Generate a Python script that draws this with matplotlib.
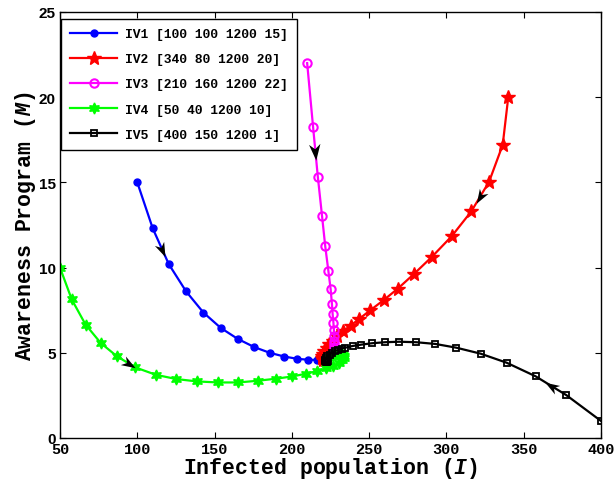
import numpy as np
import matplotlib
matplotlib.use("Agg")
import matplotlib.pyplot as plt
from matplotlib.path import Path

plt.rcParams["mathtext.fontset"] = "custom"
plt.rcParams["mathtext.it"] = "Liberation Mono:italic:bold"
plt.rcParams["mathtext.rm"] = "Liberation Mono:bold"

# Trajectories in the (I, M) plane for five initial values
iv1_I = [100, 110, 120.4, 131.6, 142.8, 154, 164.9, 175.8, 185.7, 195.1, 203.3, 210.7, 216.5, 220, 222, 223, 223.2]
iv1_M = [15.0, 12.3, 10.2, 8.6, 7.36, 6.46, 5.82, 5.33, 5.0, 4.78, 4.65, 4.59, 4.58, 4.6, 4.65, 4.7, 4.75]

iv2_I = [340, 336.4, 327.6, 316.1, 303.4, 290.7, 278.8, 268.6, 259.5, 250.8, 243.7, 238.1, 233, 229.2,
         226.5, 224.3, 222.5, 221, 220, 219.5, 219.6, 220.3, 221.2, 222]
iv2_M = [20.0, 17.2, 15.04, 13.3, 11.84, 10.64, 9.61, 8.77, 8.1, 7.5, 7.0, 6.6, 6.27, 5.98,
         5.72, 5.5, 5.3, 5.12, 4.95, 4.8, 4.68, 4.6, 4.6, 4.65]

iv3_I = [209.9, 213.7, 216.8, 219.5, 221.6, 223.6, 225.1, 225.9, 226.4, 226.9, 227.2, 227.4,
         227.5, 227.5, 227.3, 227, 226.5, 225.8, 225, 224, 223.2]
iv3_M = [22.0, 18.28, 15.33, 13.05, 11.25, 9.82, 8.73, 7.89, 7.25, 6.76, 6.31, 5.98,
         5.72, 5.5, 5.32, 5.17, 5.05, 4.95, 4.87, 4.8, 4.76]

iv4_I = [50, 57.6, 66.5, 76.4, 86.9, 98.8, 112, 125.2, 138.7, 152.2, 165.4, 177.9, 189.8, 200, 209.1,
         216.5, 222.1, 226.7, 230.2, 232.5, 233.5, 233.7, 233.2, 232.2, 231, 229.5, 228, 226.5, 225, 223.8]
iv4_M = [10.0, 8.13, 6.66, 5.57, 4.79, 4.14, 3.71, 3.46, 3.32, 3.26, 3.26, 3.36, 3.48, 3.61, 3.77,
         3.93, 4.08, 4.24, 4.39, 4.55, 4.69, 4.8, 4.88, 4.93, 4.95, 4.93, 4.9, 4.85, 4.8, 4.76]

iv5_I = [400, 377.5, 357.7, 338.9, 322.1, 306.4, 292.8, 280.5, 269.5, 260.2, 251.8, 244.9, 239.3, 234.5,
         232.3, 230, 228, 226, 224.5, 223, 222, 221.5, 221.5, 222, 223, 223.5]
iv5_M = [1.0, 2.52, 3.62, 4.42, 4.95, 5.30, 5.52, 5.62, 5.65, 5.62, 5.56, 5.48, 5.40, 5.30,
         5.25, 5.18, 5.1, 5.0, 4.9, 4.8, 4.7, 4.6, 4.5, 4.45, 4.45, 4.5]

labels = ["IV1 [100 100 1200 15]", "IV2 [340 80 1200 20]", "IV3 [210 160 1200 22]",
          "IV4 [50 40 1200 10]", "IV5 [400 150 1200 1]"]

# direction arrows: (segment index, fraction along segment)
arrow_at = [(1, 0.6), (2, 0.5), (1, 0.5), (4, 0.65), (1, 0.5)]

series = [(iv1_I, iv1_M), (iv2_I, iv2_M), (iv3_I, iv3_M), (iv4_I, iv4_M), (iv5_I, iv5_M)]
styles = [
    dict(color="#0000ff", marker="o", markersize=5, markerfacecolor="#0000ff"),
    dict(color="#ff0000", marker="*", markersize=10, markerfacecolor="#ff0000"),
    dict(color="#ff00ff", marker="o", markersize=6, markerfacecolor="none", markeredgewidth=1.5),
    dict(color="#00ff00", marker=(6, 1, 0), markersize=8, markerfacecolor="#00ff00"),
    dict(color="#000000", marker="s", markersize=4.5, markerfacecolor="none", markeredgewidth=1.3),
]

fig = plt.figure(figsize=(6.16, 4.81), dpi=100)
ax = fig.add_axes([60 / 616, 42 / 481, 541 / 616, 426 / 481])

handles = []
for (xs, ys), st, lab in zip(series, styles, labels):
    h, = ax.plot(xs, ys, linewidth=1.6, label=lab, **st)
    handles.append(h)

ax.set_xlim(50, 400)
ax.set_ylim(0, 25)
ax.set_xticks(np.arange(50, 401, 50))
ax.set_yticks(np.arange(0, 26, 5))

# arrowheads showing the direction of motion
head = Path([(1, 0), (-1, 0.7), (-0.4, 0), (-1, -0.7), (1, 0)],
            [Path.MOVETO, Path.LINETO, Path.LINETO, Path.LINETO, Path.CLOSEPOLY])
for (xs, ys), (k, f) in zip(series, arrow_at):
    x0, y0, x1, y1 = xs[k], ys[k], xs[k + 1], ys[k + 1]
    px, py = x0 + f * (x1 - x0), y0 + f * (y1 - y0)
    d0 = ax.transData.transform((x0, y0))
    d1 = ax.transData.transform((x1, y1))
    ang = np.arctan2(d1[1] - d0[1], d1[0] - d0[0])
    c, s = np.cos(ang), np.sin(ang)
    verts = head.vertices @ np.array([[c, s], [-s, c]])
    ax.plot(px, py, marker=Path(verts, head.codes), markersize=12.5, color="black",
            markeredgewidth=0, linestyle="none", zorder=5)

ax.tick_params(direction="in", top=True, right=True, length=4, width=0.8)
for lab in ax.get_xticklabels():
    lab.set_fontfamily("Liberation Mono")
    lab.set_fontweight("bold")
    lab.set_fontsize(11)
for lab in ax.get_yticklabels():
    lab.set_fontfamily("Liberation Sans")
    lab.set_fontweight("bold")
    lab.set_fontsize(11)
ax.tick_params(axis="x", pad=3)
ax.tick_params(axis="y", pad=3)
for sp in ax.spines.values():
    sp.set_linewidth(1.0)

ax.set_xlabel(r"Infected population ($I$)", fontfamily="Liberation Mono", fontweight="bold", fontsize=15.5)
ax.set_ylabel(r"Awareness Program ($M$)", fontfamily="Liberation Mono", fontweight="bold", fontsize=15.5)
ax.xaxis.set_label_coords(0.5, -0.07)
ax.yaxis.set_label_coords(-0.063, 0.5)
ax.xaxis.label.set_va("center")
ax.yaxis.label.set_va("center")

leg = ax.legend(handles=handles, loc="upper left", bbox_to_anchor=(0.002, 0.984), borderaxespad=0,
                fancybox=False, edgecolor="black", framealpha=1,
                prop=dict(family="Liberation Mono", weight="bold", size=9.4),
                handlelength=3.6, handletextpad=0.6, labelspacing=1.0, borderpad=0.7)
leg.get_frame().set_linewidth(1.0)

fig.savefig("out.png", dpi=100)
